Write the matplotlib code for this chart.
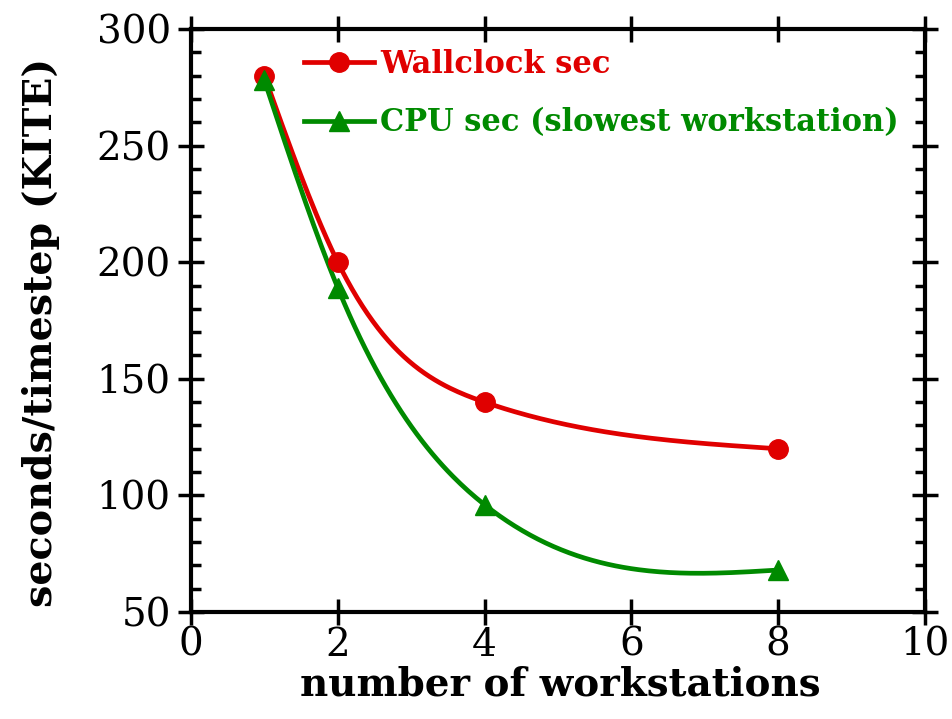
import numpy as np
import matplotlib.pyplot as plt
from matplotlib.ticker import MultipleLocator

# --- data ---
workstations = [1, 2, 4, 8]
wallclock_sec = [280, 200, 140, 120]
cpu_sec = [278, 189, 96, 68]

x_ticks = [0, 2, 4, 6, 8, 10]
y_ticks = [50, 100, 150, 200, 250, 300]


def natural_spline(xs, ys, n=200):
    # plain natural cubic spline, solved with numpy
    xs = np.asarray(xs, float)
    ys = np.asarray(ys, float)
    k = len(xs)
    h = np.diff(xs)
    A = np.zeros((k, k))
    b = np.zeros(k)
    A[0, 0] = A[-1, -1] = 1
    for i in range(1, k - 1):
        A[i, i - 1] = h[i - 1]
        A[i, i] = 2 * (h[i - 1] + h[i])
        A[i, i + 1] = h[i]
        b[i] = 6 * ((ys[i + 1] - ys[i]) / h[i] - (ys[i] - ys[i - 1]) / h[i - 1])
    M = np.linalg.solve(A, b)
    xx = np.linspace(xs[0], xs[-1], n)
    idx = np.clip(np.searchsorted(xs, xx) - 1, 0, k - 2)
    x0, x1 = xs[idx], xs[idx + 1]
    hh = x1 - x0
    t0, t1 = x1 - xx, xx - x0
    yy = (M[idx] * t0**3 + M[idx + 1] * t1**3) / (6 * hh) \
        + (ys[idx] / hh - M[idx] * hh / 6) * t0 \
        + (ys[idx + 1] / hh - M[idx + 1] * hh / 6) * t1
    return xx, yy


plt.rcParams['font.family'] = ['DejaVu Serif']

fig = plt.figure(figsize=(9.53, 7.19), dpi=100)
ax = fig.add_axes([0.2004, 0.1488, 0.7702, 0.8109])

red = '#e00000'
green = '#008a00'
lw = 3.4
ms = 14

xs, ys = natural_spline(workstations, wallclock_sec)
ax.plot(xs, ys, color=red, lw=lw, zorder=3)
ax.plot(workstations, wallclock_sec, 'o', color=red, ms=ms, zorder=4)
xs, ys = natural_spline(workstations, cpu_sec)
ax.plot(xs, ys, color=green, lw=lw, zorder=3)
ax.plot(workstations, cpu_sec, '^', color=green, ms=ms, zorder=4)

# legend handles
h1, = ax.plot([], [], '-o', color=red, lw=lw, ms=ms)
h2, = ax.plot([], [], '-^', color=green, lw=lw, ms=ms)
leg = ax.legend([h1, h2], ['Wallclock sec', 'CPU sec (slowest workstation)'],
                loc='upper left', bbox_to_anchor=(0.154, 0.966), frameon=False,
                borderpad=0, borderaxespad=0,
                handlelength=2.3, handletextpad=0.2, labelspacing=0.9,
                prop={'weight': 'bold', 'size': 22})
for txt, c in zip(leg.get_texts(), [red, green]):
    txt.set_color(c)

ax.set_xlim(0, 10)
ax.set_ylim(50, 300)
ax.set_xticks(x_ticks)
ax.set_yticks(y_ticks)
ax.yaxis.set_minor_locator(MultipleLocator(10))

for s in ax.spines.values():
    s.set_linewidth(3)
ax.tick_params(which='major', direction='inout', length=19, width=2.5,
               top=True, right=True, labelsize=28)
ax.tick_params(axis='y', which='major', pad=5)
ax.tick_params(axis='x', which='major', pad=1)
ax.tick_params(which='minor', direction='in', length=7, width=2.5,
               left=True, right=True)

ax.set_xlabel('number of workstations', fontsize=28, fontweight='bold')
ax.set_ylabel('seconds/timestep (KITE)', fontsize=28.5, fontweight='bold')
ax.xaxis.set_label_coords(0.503, -0.092)
ax.yaxis.set_label_coords(-0.178, 0.48)

fig.savefig('out.png', dpi=100)
